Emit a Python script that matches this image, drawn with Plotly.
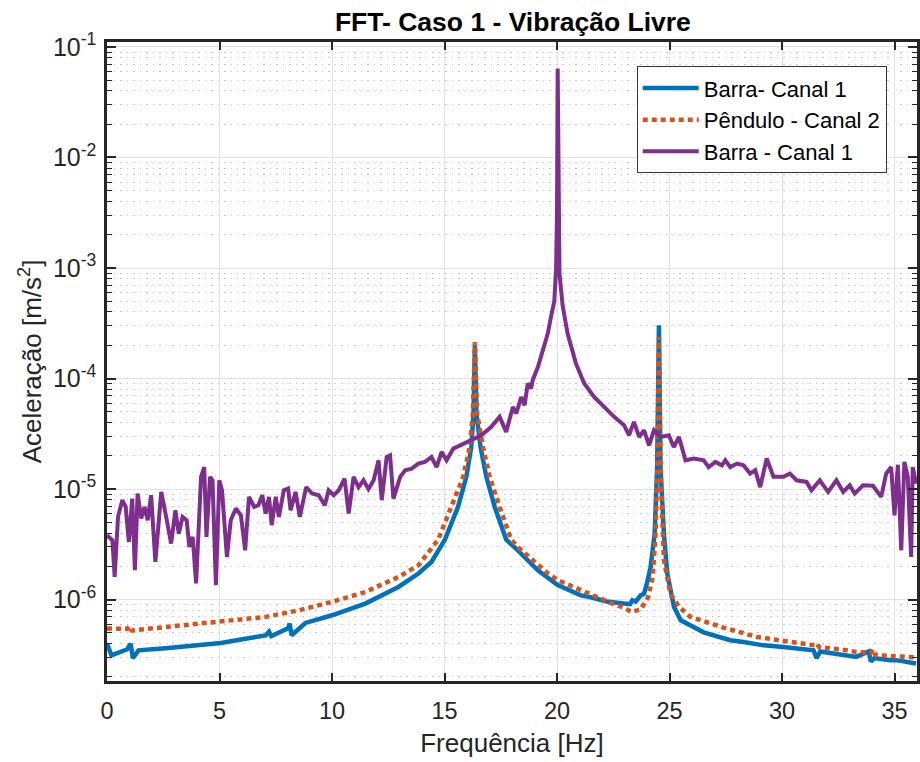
import plotly.graph_objects as go

# ---------------- data ----------------
blue_f = [0.0, 0.2, 0.9, 1.05, 1.15, 1.4, 2.6, 4.1, 5.06, 6.02, 7.05, 7.2, 7.3, 8.05, 8.12, 8.2, 8.82,
          10.0, 11.48, 12.95, 13.84, 14.42, 15.02, 15.6, 15.97, 16.19, 16.29, 16.35, 16.42, 16.6,
          16.86, 17.23, 17.74, 18.26, 19.15, 20.03, 21.06, 21.5, 22.2, 22.98, 23.25, 23.35, 23.5,
          23.72, 23.87, 24.0, 24.16, 24.34, 24.45, 24.53, 24.6, 24.75, 24.9, 25.2, 25.5, 26.52,
          27.7, 28.29, 29.18, 30.06, 31.4, 31.54, 31.7, 33.3, 33.85, 33.95, 34.1, 34.8, 35.07, 35.96]
blue_v = [4.0e-7, 3.13e-7, 3.55e-7, 3.98e-7, 2.95e-7, 3.47e-7, 3.63e-7, 3.85e-7, 4.05e-7, 4.37e-7,
          4.74e-7, 5.13e-7, 4.68e-7, 5.5e-7, 6.07e-7, 4.75e-7, 6.14e-7,
          7.21e-7, 9.2e-7, 1.30e-6, 1.72e-6, 2.19e-6, 3.49e-6, 6.89e-6, 1.29e-5, 2.40e-5, 4.82e-5,
          2.0e-4, 4.82e-5, 2.40e-5,
          1.29e-5, 6.89e-6, 3.49e-6, 2.79e-6, 1.84e-6, 1.35e-6, 1.09e-6, 1.05e-6, 9.6e-7, 9.2e-7,
          9.1e-7, 9.86e-7, 9.6e-7,
          1.09e-6, 1.13e-6, 1.41e-6, 1.97e-6, 3.95e-6, 1.58e-5, 3.03e-4, 1.58e-5, 3.95e-6, 1.72e-6,
          8.57e-7, 6.5e-7, 5.05e-7,
          4.29e-7, 4.13e-7, 3.85e-7, 3.72e-7, 3.47e-7, 2.95e-7, 3.39e-7, 3.03e-7, 3.39e-7, 2.75e-7,
          2.95e-7, 2.83e-7, 2.83e-7, 2.64e-7]

orange_f = [0.0, 0.9, 1.0, 1.1, 2.63, 4.84, 6.31, 7.05, 8.53, 10.0, 11.48, 12.95, 13.84, 14.72,
            15.31, 15.83, 16.12, 16.26, 16.35, 16.45, 16.71, 17.01, 17.45, 17.96, 18.26, 19.6,
            20.03, 21.06, 21.5, 22.5, 23.0, 23.3, 23.72, 24.05, 24.25, 24.38, 24.47, 24.53, 24.6,
            24.75, 25.04, 25.42, 25.93, 27.4, 28.88, 30.35, 31.45, 31.54, 31.65, 32.86, 33.3,
            33.95, 34.05, 34.15, 34.78, 35.96]
orange_v = [5.47e-7, 5.43e-7, 5.75e-7, 5.25e-7, 5.65e-7, 6.19e-7, 6.73e-7, 6.97e-7, 8.0e-7, 9.53e-7,
            1.17e-6, 1.60e-6, 2.04e-6, 3.49e-6,
            6.89e-6, 1.29e-5, 2.40e-5, 4.82e-5, 2.14e-4, 4.82e-5, 2.40e-5, 1.29e-5, 6.89e-6, 3.49e-6,
            2.99e-6, 1.72e-6,
            1.50e-6, 1.21e-6, 1.13e-6, 9.12e-7, 8.41e-7, 7.73e-7, 8.13e-7, 1.05e-6, 1.58e-6, 3.98e-6,
            1.58e-5, 2.38e-4, 1.58e-5,
            2.27e-6, 1.13e-6, 8.57e-7, 6.97e-7, 5.58e-7, 4.59e-7, 4.13e-7, 3.85e-7, 4.0e-7, 3.72e-7,
            3.48e-7, 3.36e-7,
            3.3e-7, 3.55e-7, 3.15e-7, 3.07e-7, 2.99e-7]

purple_f = [0.0, 0.24, 0.34, 0.49, 0.68, 0.83, 0.97, 1.12, 1.24, 1.36, 1.52, 1.67, 1.81, 1.96, 2.15,
            2.41, 2.63, 2.85, 3.04, 3.19, 3.36, 3.54, 3.66, 3.81, 3.96, 4.18, 4.32, 4.42, 4.58, 4.69,
            4.84, 4.99, 5.11, 5.33, 5.50, 5.73, 5.95, 6.14, 6.31, 6.54, 6.73, 6.90, 7.05, 7.20, 7.32,
            7.50, 7.64, 7.86, 8.05, 8.16, 8.38, 8.57, 8.85, 9.12, 9.41, 9.68, 9.85, 10.08, 10.30,
            10.56, 10.74, 10.96, 11.18, 11.40, 11.62, 11.85, 12.07, 12.21, 12.43, 12.58, 12.73,
            13.03, 13.25, 13.54, 13.84, 14.13, 14.42, 14.65, 14.87, 15.09, 15.39, 15.75, 16.19,
            16.64, 17.08, 17.45, 17.74, 18.04, 18.19, 18.41, 18.56, 18.70, 18.85, 18.92, 19.15,
            19.37, 19.59, 19.73, 19.88, 19.96, 20.0, 20.03, 20.06, 20.11, 20.25, 20.47, 20.84,
            21.21, 21.65, 22.10, 22.54, 22.98, 23.20, 23.42, 23.65, 23.87, 24.09, 24.31, 24.60,
            24.97, 25.19, 25.42, 25.71, 26.08, 26.52, 26.74, 27.04, 27.33, 27.48, 27.70, 28.00,
            28.29, 28.58, 28.81, 29.03, 29.32, 29.62, 30.06, 30.35, 30.65, 31.09, 31.31, 31.68,
            32.05, 32.42, 32.72, 33.01, 33.23, 33.60, 34.04, 34.41, 34.63, 34.85, 35.0, 35.15,
            35.30, 35.44, 35.59, 35.74, 35.81, 35.96]
purple_v = [3.82e-6, 3.44e-6, 1.60e-6, 5.6e-6, 7.93e-6, 6.89e-6, 3.32e-6, 8.2e-6, 1.84e-6, 9.1e-6,
            5.41e-6, 6.89e-6, 5.22e-6, 8.79e-6, 2.19e-6,
            9.42e-6, 5.6e-6, 3.21e-6, 6.43e-6, 3.95e-6, 5.6e-6, 5.22e-6, 2.99e-6, 3.69e-6, 1.40e-6,
            1.29e-5, 1.58e-5, 3.69e-6, 1.29e-5, 1.20e-5,
            1.35e-6, 1.20e-5, 9.75e-6, 2.43e-6, 5.22e-6, 6.67e-6, 5.79e-6, 2.79e-6, 8.49e-6, 6.89e-6,
            7.13e-6, 8.79e-6, 6.0e-6, 8.49e-6, 4.71e-6,
            8.49e-6, 5.6e-6, 9.75e-6, 1.01e-5, 6.43e-6, 9.42e-6, 5.6e-6, 1.04e-5, 9.1e-6, 8.79e-6,
            7.13e-6, 9.75e-6, 8.79e-6, 9.75e-6,
            1.24e-5, 6.0e-6, 1.29e-5, 1.04e-5, 1.20e-5, 1.0e-5, 1.20e-5, 1.82e-5, 7.93e-6, 1.95e-5,
            2.02e-5, 8.2e-6,
            1.29e-5, 1.48e-5, 1.53e-5, 1.70e-5, 1.76e-5, 1.95e-5, 1.58e-5, 2.17e-5, 1.82e-5, 2.32e-5,
            2.49e-5, 2.77e-5,
            3.07e-5, 3.65e-5, 4.5e-5, 3.29e-5, 5.53e-5, 4.82e-5, 6.81e-5, 5.73e-5, 9.02e-5, 8.13e-5,
            9.66e-5, 1.27e-4,
            1.80e-4, 2.55e-4, 3.6e-4, 5.0e-4, 1.0e-3, 3.16e-3, 6.38e-2, 3.16e-3, 8.9e-4, 4.57e-4,
            2.55e-4, 1.37e-4,
            9.02e-5, 6.82e-5, 5.53e-5, 4.5e-5, 3.78e-5, 3.07e-5, 4.05e-5, 2.96e-5, 3.4e-5, 2.49e-5,
            3.4e-5, 2.96e-5,
            3.07e-5, 2.40e-5, 2.96e-5, 1.82e-5, 1.89e-5, 1.82e-5, 1.58e-5, 1.76e-5, 1.64e-5, 1.82e-5,
            1.58e-5, 1.70e-5,
            1.64e-5, 1.38e-5, 1.48e-5, 1.04e-5, 1.89e-5, 1.29e-5, 1.29e-5, 1.38e-5, 1.20e-5, 1.16e-5,
            9.75e-6, 1.20e-5,
            9.42e-6, 1.20e-5, 9.42e-6, 1.08e-5, 9.1e-6, 1.08e-5, 1.07e-5, 8.49e-6, 1.38e-5, 1.58e-5,
            5.79e-6, 1.66e-5,
            2.79e-6, 1.76e-5, 1.29e-5, 2.43e-6, 1.58e-5, 1.12e-5]

series_names = ["Barra- Canal 1", "Pêndulo - Canal 2", "Barra - Canal 1"]
x_ticks = [0, 5, 10, 15, 20, 25, 30, 35]
y_ticks = [1e-6, 1e-5, 1e-4, 1e-3, 1e-2, 1e-1]
y_ticktext = ["10<sup>-6</sup>", "10<sup>-5</sup>", "10<sup>-4</sup>",
              "10<sup>-3</sup>", "10<sup>-2</sup>", "10<sup>-1</sup>"]

# ---------------- styles ----------------
BLUE = "#0072BD"
ORANGE = "#D95319"
PURPLE = "#7E2F8E"
AX = "#262626"
FONT = "Liberation Sans, Arial, sans-serif"

minor_vals = [k * 10.0 ** e for e in range(-7, 0) for k in range(2, 10)]

fig = go.Figure()
fig.add_trace(go.Scatter(x=blue_f, y=blue_v, mode="lines", name=series_names[0],
                         line=dict(color=BLUE, width=4.5)))
fig.add_trace(go.Scatter(x=orange_f, y=orange_v, mode="lines", name=series_names[1],
                         line=dict(color=ORANGE, width=4.5, dash="5px,4px")))
fig.add_trace(go.Scatter(x=purple_f, y=purple_v, mode="lines", name=series_names[2],
                         line=dict(color=PURPLE, width=4)))

fig.update_layout(
    width=920, height=762,
    margin=dict(l=107, r=0, t=42, b=81),
    paper_bgcolor="white", plot_bgcolor="white",
    font=dict(family=FONT, color=AX, size=23),
    title=dict(text="<b>FFT- Caso 1 - Vibração Livre</b>", x=0.5575, xanchor="center",
               xref="container", y=1 - 22 / 762, yanchor="middle", yref="container",
               font=dict(size=26.5, color="black", family=FONT)),
    showlegend=True,
    legend=dict(x=0.654, y=0.962, xanchor="left", yanchor="top",
                bgcolor="white", bordercolor="#333333", borderwidth=1,
                font=dict(size=22, color="black", family=FONT),
                itemwidth=56, tracegroupgap=0),
)

fig.update_xaxes(
    range=[0, 36], tickvals=x_ticks, ticks="inside", ticklen=8, tickwidth=1.5,
    tickcolor=AX, showline=True, linewidth=2.5, linecolor=AX, mirror="ticks",
    showgrid=True, gridcolor="#e2e2e2", gridwidth=1, zeroline=False,
    tickfont=dict(size=23.5, color=AX), ticklabelstandoff=7,
    title=dict(text="Frequência [Hz]", font=dict(size=26, color=AX), standoff=11),
)
fig.update_yaxes(
    type="log", range=[-6.737, -0.955], tickvals=y_ticks, ticktext=y_ticktext,
    ticks="inside", ticklen=9, tickwidth=1.5, tickcolor=AX,
    showline=True, linewidth=2.5, linecolor=AX, mirror="ticks",
    showgrid=True, gridcolor="#e2e2e2", gridwidth=1, zeroline=False,
    tickfont=dict(size=25, color=AX), ticklabelstandoff=3,
    minor=dict(tickvals=minor_vals, ticks="inside", ticklen=5, tickwidth=1, tickcolor=AX,
               showgrid=True, gridcolor="#c4c4c4", gridwidth=1, griddash="1.5px,5px"),
    title=dict(text="Aceleração [m/s<sup>2</sup>]", font=dict(size=26, color=AX), standoff=4),
)

fig.write_html("out.html")
